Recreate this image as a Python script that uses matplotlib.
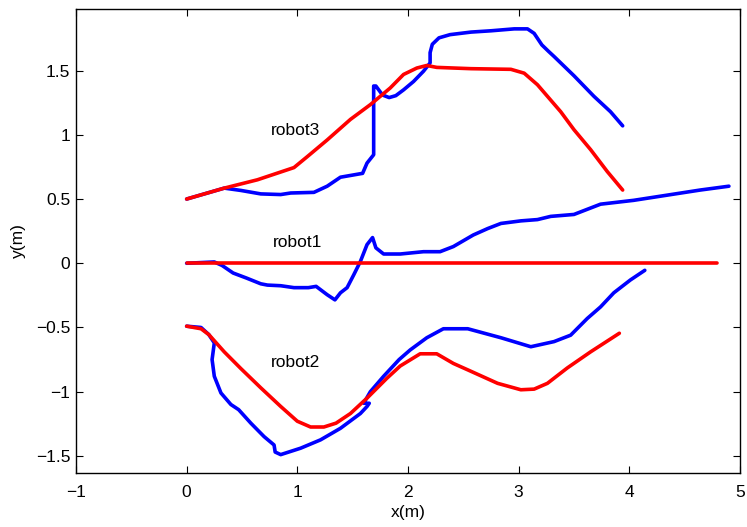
import matplotlib
matplotlib.use("Agg")
import matplotlib.pyplot as plt

plt.rcParams['font.family'] = ['Liberation Sans', 'DejaVu Sans']

# robot1
r1_ref_x = [0.0, 4.79]
r1_ref_y = [0.0, 0.0]
r1_act_x = [0.0, 0.25, 0.32, 0.42, 0.54, 0.67, 0.73, 0.85, 0.97, 1.10, 1.17, 1.27, 1.34, 1.39, 1.45,
            1.51, 1.57, 1.63, 1.68, 1.71, 1.78, 1.93, 2.14, 2.29, 2.41, 2.59, 2.72, 2.84, 3.02, 3.17,
            3.29, 3.50, 3.62, 3.74, 4.04, 4.34, 4.64, 4.90]
r1_act_y = [0.0, 0.01, -0.017, -0.076, -0.115, -0.16, -0.17, -0.175, -0.19, -0.19, -0.18, -0.245,
            -0.285, -0.23, -0.19, -0.09, 0.014, 0.145, 0.20, 0.12, 0.072, 0.072, 0.09, 0.09, 0.13,
            0.22, 0.27, 0.31, 0.33, 0.34, 0.365, 0.38, 0.42, 0.46, 0.49, 0.53, 0.57, 0.60]

# robot2
r2_ref_x = [0.0, 0.13, 0.20, 0.34, 0.49, 0.67, 0.85, 1.00, 1.12, 1.24, 1.35, 1.48, 1.63, 1.81, 1.93,
            2.11, 2.26, 2.41, 2.54, 2.81, 3.02, 3.14, 3.26, 3.44, 3.65, 3.91]
r2_ref_y = [-0.49, -0.51, -0.555, -0.69, -0.82, -0.97, -1.115, -1.23, -1.275, -1.275, -1.245, -1.17,
            -1.05, -0.895, -0.80, -0.705, -0.705, -0.78, -0.83, -0.935, -0.985, -0.98, -0.935,
            -0.815, -0.69, -0.545]
r2_act_x = [0.0, 0.13, 0.20, 0.25, 0.23, 0.25, 0.31, 0.40, 0.47, 0.58, 0.70, 0.79, 0.80, 0.85, 1.03,
            1.21, 1.39, 1.57, 1.63, 1.65, 1.60, 1.66, 1.78, 1.92, 2.02, 2.17, 2.32, 2.54, 2.84,
            3.11, 3.32, 3.47, 3.62, 3.74, 3.86, 4.01, 4.14]
r2_act_y = [-0.49, -0.50, -0.555, -0.62, -0.75, -0.88, -1.01, -1.10, -1.14, -1.245, -1.35, -1.415,
            -1.47, -1.49, -1.44, -1.375, -1.285, -1.17, -1.115, -1.09, -1.09, -1.0, -0.88, -0.75,
            -0.675, -0.58, -0.51, -0.51, -0.58, -0.65, -0.61, -0.56, -0.43, -0.34, -0.23, -0.13,
            -0.055]

# robot3
r3_ref_x = [0.0, 0.34, 0.64, 0.97, 1.09, 1.27, 1.48, 1.66, 1.84, 1.96, 2.08, 2.17, 2.26, 2.57, 2.93,
            3.05, 3.17, 3.29, 3.38, 3.50, 3.65, 3.80, 3.94]
r3_ref_y = [0.50, 0.585, 0.65, 0.745, 0.83, 0.96, 1.12, 1.235, 1.365, 1.47, 1.52, 1.54, 1.525, 1.515,
            1.51, 1.48, 1.39, 1.27, 1.18, 1.04, 0.885, 0.715, 0.57]
r3_act_x = [0.0, 0.34, 0.49, 0.67, 0.85, 0.94, 1.15, 1.27, 1.39, 1.59, 1.63, 1.69, 1.69, 1.69, 1.71,
            1.77, 1.83, 1.89, 1.96, 2.05, 2.14, 2.20, 2.20, 2.22, 2.28, 2.38, 2.57, 2.75, 2.96,
            3.08, 3.14, 3.21, 3.27, 3.32, 3.50, 3.68, 3.83, 3.94]
r3_act_y = [0.50, 0.585, 0.567, 0.54, 0.535, 0.547, 0.552, 0.60, 0.67, 0.70, 0.78, 0.845, 1.145, 1.38,
            1.38, 1.31, 1.29, 1.305, 1.35, 1.415, 1.495, 1.56, 1.64, 1.705, 1.755, 1.78, 1.80,
            1.81, 1.825, 1.825, 1.79, 1.70, 1.65, 1.61, 1.46, 1.30, 1.18, 1.07]

labels = ['robot1', 'robot2', 'robot3']
label_x = [1.0, 0.98, 0.98]
label_y = [0.16, -0.77, 1.03]

x_ticks = [-1, 0, 1, 2, 3, 4, 5]
y_ticks = [-1.5, -1, -0.5, 0, 0.5, 1, 1.5]

fig = plt.figure(figsize=(7.47, 5.27), dpi=100)
ax = fig.add_axes([0.1017, 0.1025, 0.8889, 0.8805])

lw = 2.6
blue = (0, 0, 1)
red = (1, 0, 0)
for ax_x, ax_y, rx, ry in [(r1_act_x, r1_act_y, r1_ref_x, r1_ref_y),
                           (r2_act_x, r2_act_y, r2_ref_x, r2_ref_y),
                           (r3_act_x, r3_act_y, r3_ref_x, r3_ref_y)]:
    ax.plot(ax_x, ax_y, color=blue, lw=lw, solid_capstyle='round', solid_joinstyle='round')
    ax.plot(rx, ry, color=red, lw=lw, solid_capstyle='round', solid_joinstyle='round')

for t, tx, ty in zip(labels, label_x, label_y):
    ax.text(tx, ty, t, ha='center', va='center', fontsize=12.5)

ax.set_xlim(-1, 5)
ax.set_ylim(-1.633, 1.98)
ax.set_xticks(x_ticks)
ax.set_yticks(y_ticks)
ax.set_xticklabels(['\u22121', '0', '1', '2', '3', '4', '5'])
ax.set_yticklabels(['\u22121.5', '\u22121', '\u22120.5', '0', '0.5', '1', '1.5'])
ax.tick_params(direction='in', top=True, right=True, length=5, width=0.8, labelsize=12.5)
ax.tick_params(axis='x', pad=9)
ax.tick_params(axis='y', pad=4)
for s in ax.spines.values():
    s.set_linewidth(1.0)
ax.set_xlabel('x(m)', fontsize=12.5, labelpad=3)
ax.set_ylabel('y(m)', fontsize=12.5, labelpad=7)

fig.savefig('out.png', dpi=100)
